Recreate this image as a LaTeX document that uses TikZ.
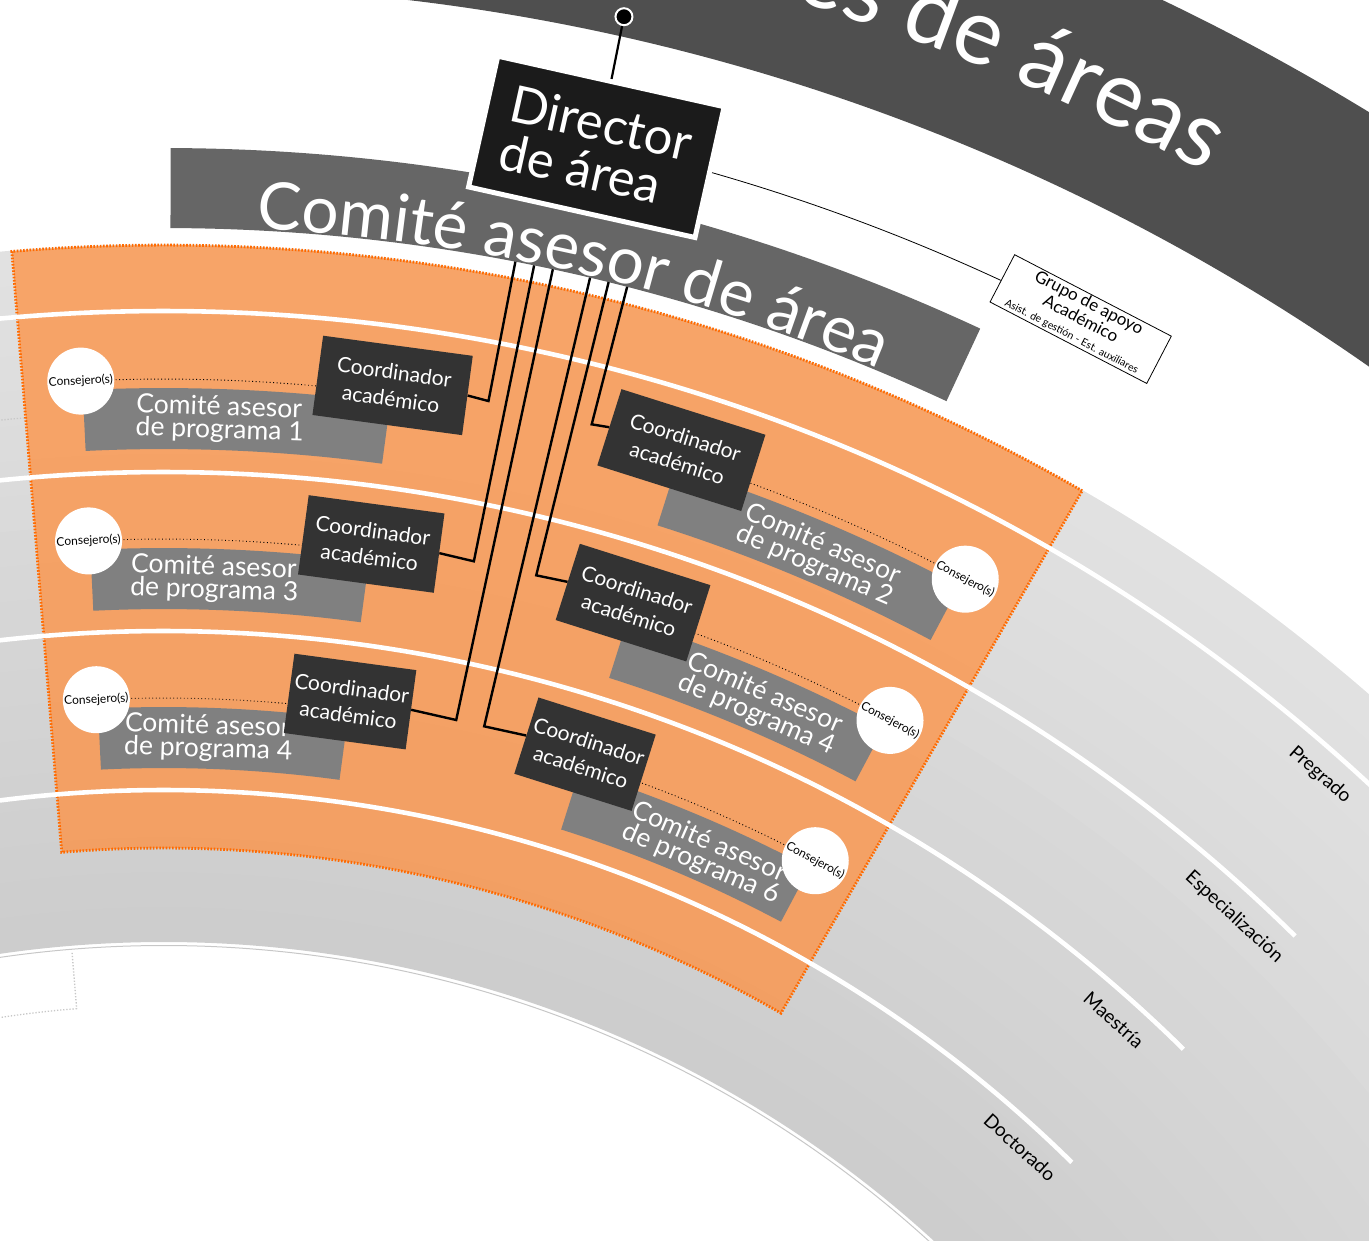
\documentclass[tikz,border=0pt]{standalone}
\usepackage{fontspec}
\setmainfont{Lato}
\usetikzlibrary{decorations.text}
\definecolor{topband}{HTML}{4F4F4F}
\definecolor{areaband}{HTML}{666666}
\definecolor{progband}{HTML}{808080}
\definecolor{coordfill}{HTML}{333333}
\definecolor{dirfill}{HTML}{1B1B1B}
\definecolor{orangebase}{RGB}{255,144,64}
\definecolor{orangeedge}{HTML}{FF6A00}
\newcommand\ringsector[4]{([shift={(O)}]#1:#3pt) arc[start angle=#1,end angle=#2,radius=#3pt] -- ([shift={(O)}]#2:#4pt) arc[start angle=#2,end angle=#1,radius=#4pt] -- cycle}
\tikzset{
  wline/.style={white, line width=4.6pt},
  conn/.style={black, line width=2.4pt},
  coordbox/.style={fill=coordfill, text=white, inner sep=0pt, align=center, minimum height=80pt, font=\fontsize{21}{27}\selectfont},
  progtext/.style={text=white, align=left, inner sep=0pt, font=\fontsize{26.5}{23}\selectfont},
  consejo/.style={circle, fill=white, inner sep=0pt, minimum size=67pt},
  consejotext/.style={font=\fontsize{12}{12}\selectfont, inner sep=0pt},
  advdots/.style={black, line width=0.9pt, dash pattern=on 0.9pt off 2.6pt},
  levellabel/.style={font=\fontsize{19}{19}\selectfont, inner sep=0pt},
  ghostdots/.style={black!22, line width=1.3pt, dash pattern=on 1.3pt off 1.8pt}
}
\begin{document}
\begin{tikzpicture}[x=1pt,y=1pt]
\useasboundingbox (0,0) rectangle (1369,-1241);
\clip (0,0) rectangle (1369,-1241);
\coordinate (O) at (164,-2083);

% top dark band
\fill[topband] \ringsector{25}{110}{2310}{2097};
\path[decorate, decoration={text along path, text={|\fontsize{92}{92}\selectfont|es de áreas}, text color=white, text align=right}]
  ([shift={(O)}]85:2176pt) arc[start angle=85, end angle=61.4, radius=2176pt];

% level bands (radial gradient)
\foreach \i in {0,...,19}{
  \pgfmathsetmacro{\ra}{1141+\i*34.85}
  \pgfmathsetmacro{\rb}{\ra+35.5}
  \pgfmathsetmacro{\gv}{19.6-\i*0.41}
  \fill[black!\gv] \ringsector{15}{115}{\rb}{\ra};
}
\draw[black!22, line width=1pt] ([shift={(O)}]115:1137.5pt) arc[start angle=115, end angle=15, radius=1137.5pt];
\draw[ghostdots] ([shift={(O)}]94.65:1134pt) -- ([shift={(O)}]94.65:1078pt) arc[start angle=94.65, end angle=100, radius=1078pt];
\draw[ghostdots] ([shift={(O)}]94.8:1671pt) arc[start angle=94.8, end angle=97, radius=1671pt];

% orange area
\fill[orangebase, fill opacity=0.75] \ringsector{60.03}{94.75}{1838}{1235};
\draw[orangeedge, line width=2.8pt, dash pattern=on 1.6pt off 1.6pt] \ringsector{60.03}{94.75}{1838}{1235};

% white level lines
\foreach \r in {1293,1452,1611,1772}{
  \draw[wline] ([shift={(O)}]115:\r pt) arc[start angle=115, end angle=45.4, radius=\r pt];
}

% level labels
\node[levellabel, rotate=-41.47] (pregrado) at ([shift={(O)}]48.53:1745.6pt) {Pregrado};
\node[levellabel, rotate=-42.54] (especializacion) at ([shift={(O)}]47.46:1582.5pt) {Especialización};
\node[levellabel, rotate=-41.78] (maestria) at ([shift={(O)}]48.22:1425.6pt) {Maestría};
\node[levellabel, rotate=-42.45] (doctorado) at ([shift={(O)}]47.55:1268.4pt) {Doctorado};

% Comite asesor de area band
\fill[areaband] \ringsector{65.05}{89.8}{1935}{1855};
\path[decorate, decoration={text along path, text={|\fontsize{65.7}{65.7}\selectfont|Comité asesor de área}, text color=white, text align=center}]
  ([shift={(O)}]97.25:1857pt) arc[start angle=97.25, end angle=57.25, radius=1857pt];

% program bands
\fill[progband] \ringsector{82.33}{92.75}{1695}{1634};
\fill[progband] \ringsector{82.33}{92.75}{1535}{1474};
\fill[progband] \ringsector{82.33}{92.75}{1376}{1315};
\fill[progband] \ringsector{62.02}{72.42}{1695}{1634};
\fill[progband] \ringsector{62.02}{72.42}{1535}{1474};
\fill[progband] \ringsector{62.02}{72.42}{1376}{1315};

\node[progtext, rotate=-1.93] (tp1) at ([shift={(O)}]88.07:1664.5pt) {Comité asesor\\de programa 1};
\node[progtext, rotate=-1.93] (tp3) at ([shift={(O)}]88.07:1504.5pt) {Comité asesor\\de programa 3};
\node[progtext, rotate=-1.93] (tp4l) at ([shift={(O)}]88.1:1345.5pt) {Comité asesor\\de programa 4};
\node[progtext, rotate=-23.3, anchor=west] (tp2) at ([shift={(O)}]69.68:1664.5pt) {Comité asesor\\de programa 2};
\node[progtext, rotate=-23.3, anchor=west] (tp4r) at ([shift={(O)}]69.78:1504.5pt) {Comité asesor\\de programa 4};
\node[progtext, rotate=-23.3, anchor=west] (tp6) at ([shift={(O)}]69.82:1345.5pt) {Comité asesor\\de programa 6};

% consejero centres and dotted links
\coordinate (cc1) at ([shift={(O)}]92.8:1704pt);
\coordinate (cc3) at ([shift={(O)}]92.8:1544pt);
\coordinate (cc4l) at ([shift={(O)}]92.8:1385pt);
\coordinate (cc2) at ([shift={(O)}]61.95:1704pt);
\coordinate (cc4r) at ([shift={(O)}]61.95:1544pt);
\coordinate (cc6) at ([shift={(O)}]61.95:1385pt);
\draw[advdots] (cc1) arc[start angle=92.8, end angle=84.6, radius=1704pt];
\draw[advdots] (cc3) arc[start angle=92.8, end angle=84.6, radius=1544pt];
\draw[advdots] (cc4l) arc[start angle=92.8, end angle=84.6, radius=1385pt];
\draw[advdots] (cc2) arc[start angle=61.95, end angle=70.2, radius=1704pt];
\draw[advdots] (cc4r) arc[start angle=61.95, end angle=70.2, radius=1544pt];
\draw[advdots] (cc6) arc[start angle=61.95, end angle=70.2, radius=1385pt];

% coordinator boxes
\node[coordbox, minimum width=151pt, rotate=-7.67] (co1) at ([shift={(O)}]82.33:1713pt) {Coordinador\\académico};
\node[coordbox, minimum width=137pt, rotate=-7.67] (co3) at ([shift={(O)}]82.33:1553pt) {Coordinador\\académico};
\node[coordbox, minimum width=123pt, rotate=-7.67] (co4) at ([shift={(O)}]82.33:1394pt) {Coordinador\\académico};
\node[coordbox, minimum width=151pt, rotate=-17.58] (cr2) at ([shift={(O)}]72.42:1713pt) {Coordinador\\académico};
\node[coordbox, minimum width=137pt, rotate=-17.58] (cr4) at ([shift={(O)}]72.42:1553pt) {Coordinador\\académico};
\node[coordbox, minimum width=123pt, rotate=-17.58] (cr6) at ([shift={(O)}]72.42:1394pt) {Coordinador\\académico};

% consejero circles
\node[consejo] (k1) at (cc1) {};
\node[consejo] (k3) at (cc3) {};
\node[consejo] (k4l) at (cc4l) {};
\node[consejo] (k2) at (cc2) {};
\node[consejo] (k4r) at (cc4r) {};
\node[consejo] (k6) at (cc6) {};
\node[consejotext, rotate=2.8] at (k1) {Consejero(s)};
\node[consejotext, rotate=2.8] at (k3) {Consejero(s)};
\node[consejotext, rotate=2.8] at (k4l) {Consejero(s)};
\node[consejotext, rotate=-28.05] at (k2) {Consejero(s)};
\node[consejotext, rotate=-28.05] at (k4r) {Consejero(s)};
\node[consejotext, rotate=-28.05] at (k6) {Consejero(s)};

% connectors from the area committee
\coordinate (a1) at ([shift={(O)}]79.08:1855pt);  \coordinate (b1) at ([shift={(O)}]79.08:1713pt);
\coordinate (a3) at ([shift={(O)}]78.49:1855pt);  \coordinate (b3) at ([shift={(O)}]78.49:1553pt);
\coordinate (a4) at ([shift={(O)}]77.90:1855pt);  \coordinate (b4) at ([shift={(O)}]77.90:1394pt);
\coordinate (a6) at ([shift={(O)}]76.72:1855pt);  \coordinate (b6) at ([shift={(O)}]76.72:1394pt);
\coordinate (a5) at ([shift={(O)}]76.13:1855pt);  \coordinate (b5) at ([shift={(O)}]76.13:1553pt);
\coordinate (a2) at ([shift={(O)}]75.54:1855pt);  \coordinate (b2) at ([shift={(O)}]75.54:1713pt);
\draw[conn] (a1) -- (b1) -- (co1.east);
\draw[conn] (a3) -- (b3) -- (co3.east);
\draw[conn] (a4) -- (b4) -- (co4.east);
\draw[conn] (a6) -- (b6) -- (cr6.west);
\draw[conn] (a5) -- (b5) -- (cr4.west);
\draw[conn] (a2) -- (b2) -- (cr2.west);

% director
\coordinate (pinc) at ([shift={(O)}]77.45:2117pt);
\node[fill=dirfill, draw=white, line width=5pt, text=white, inner sep=0pt, align=left,
      minimum width=232pt, minimum height=134pt, rotate=-12.59,
      font=\fontsize{51}{49}\selectfont] (dir) at ([shift={(O)}]77.41:1984pt) {Director\\de área};
\draw[black, line width=2.2pt] (dir.north) -- (pinc);
\node[circle, fill=black, draw=white, line width=2pt, inner sep=0pt, minimum size=17pt] (pin) at (pinc) {};

% grupo de apoyo
\node[draw=black, fill=white, line width=0.8pt, inner sep=0pt, minimum width=176.6pt, minimum height=53.3pt, rotate=-27.46] (grupo) at ([shift={(O)}]62.54:1988pt) {};
\node[rotate=-27.46, inner sep=0pt, font=\fontsize{17}{17}\selectfont] (g1) at ([shift={(grupo.center)}]62.54:17.6pt) {Grupo de apoyo};
\node[rotate=-27.46, inner sep=0pt, font=\fontsize{17}{17}\selectfont] (g2) at ([shift={(grupo.center)}]62.54:0.8pt) {Académico};
\node[rotate=-27.46, inner sep=0pt, font=\fontsize{10.5}{10.5}\selectfont] (g3) at ([shift={(grupo.center)}]242.54:20pt) {Asist. de gestión - Est. auxiliares};
\draw[black, line width=0.8pt] (dir.east) arc[start angle=73.99, end angle=65.1, radius=1988.5pt];
\end{tikzpicture}
\end{document}
